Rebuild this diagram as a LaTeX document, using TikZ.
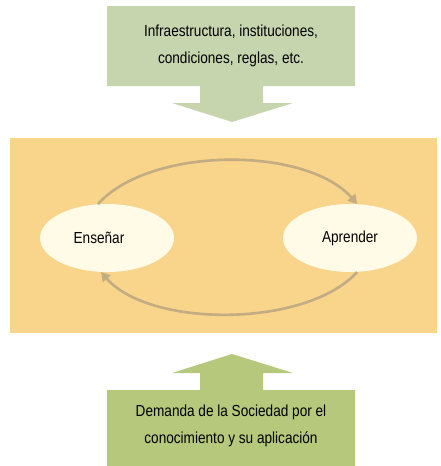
\documentclass[tikz,border=0pt]{standalone}
\usepackage{fontspec}
\setmainfont{Liberation Sans}[FakeStretch=0.85]
\usetikzlibrary{arrows.meta,shapes.geometric}
\definecolor{paleGreen}{HTML}{C6D5AE}
\definecolor{midGreen}{HTML}{B5C87C}
\definecolor{warmOrange}{HTML}{F9D48B}
\definecolor{creamFill}{HTML}{FFFBE6}
\definecolor{arcTan}{HTML}{C2AC82}
\tikzset{
  lbl/.style={align=center, font=\fontsize{16}{27}\selectfont, text=black},
  bubble/.style={ellipse, fill=creamFill, minimum width=134pt, minimum height=68pt, inner sep=0pt, font=\fontsize{16}{20}\selectfont},
  cycarrow/.style={draw=arcTan, line width=2.6pt, -{Triangle[length=9pt,width=10pt]}}
}
\begin{document}
\begin{tikzpicture}[x=1pt,y=-1pt]
\useasboundingbox (0,0) rectangle (440,466);
% frame of the cycle
\fill[warmOrange] (10,138) rectangle (437,333);
% top callout
\fill[paleGreen] (107,6) -- (355,6) -- (355,86) -- (263,86) -- (263,103) -- (293,103)
  -- (232,122) -- (172,103) -- (200,103) -- (200,86) -- (107,86) -- cycle;
\node[lbl] (top) at (231,46) {Infraestructura, instituciones,\\condiciones, reglas, etc.};
% bottom callout
\fill[midGreen] (107,466) -- (107,390) -- (200,390) -- (200,373) -- (172,373) -- (232,354)
  -- (293,373) -- (263,373) -- (263,390) -- (355,390) -- (355,466) -- cycle;
\node[lbl] (bottom) at (231,426) {Demanda de la Sociedad por el\\conocimiento y su aplicación};
% ellipses
\node[bubble] (ens) at (107,238) {\hspace*{-16pt}Enseñar};
\node[bubble] (apr) at (350,238) {Aprender};
% cycle arrows
\draw[cycarrow] (ens.105) .. controls (150,146) and (306,146) .. (apr.78);
\draw[cycarrow] (apr.-78) .. controls (306,328) and (150,328) .. (ens.-100);
\end{tikzpicture}
\end{document}
